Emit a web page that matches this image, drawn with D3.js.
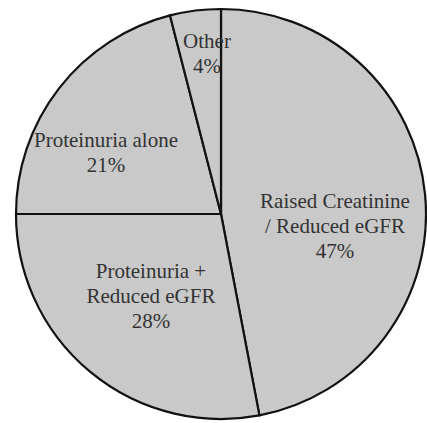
<!DOCTYPE html>
<style>
body { margin: 0; background: #fff; }
</style>
<svg width="427" height="423"></svg>
<script src="https://d3js.org/d3.v7.min.js"></script>
<script>

// data, clockwise from 12 o'clock
const categories = ['Raised Creatinine / Reduced eGFR', 'Proteinuria + Reduced eGFR', 'Proteinuria alone', 'Other'];
const values = [47, 28, 21, 4];
const labelLines = [
	['Raised Creatinine', '/ Reduced eGFR', '47%'],
	['Proteinuria +', 'Reduced eGFR', '28%'],
	['Proteinuria alone', '21%'],
	['Other', '4%']
];

// where each label block sits, relative to the centre (first baseline)
const labelPos = [[114, -6], [-70, 64], [-115, -67], [-14, -166]];

const svg = d3.select('svg'),
	cx = 221,
	cy = 214,
	radius = 205;

const pie = d3.pie().sort(null).value((d) => d);
const arc = d3.arc().innerRadius(0).outerRadius(radius);

const g = svg.append('g').attr('transform', `translate(${cx},${cy})`);

g.selectAll('path')
	.data(pie(values))
	.enter().append('path')
	.attr('d', arc)
	.attr('fill', '#c9c9c9')
	.attr('stroke', '#111')
	.attr('stroke-width', 2.2)
	.attr('stroke-linejoin', 'round');

const labels = g.selectAll('text')
	.data(labelLines)
	.enter().append('text')
	.attr('font-family', 'Liberation Serif')
	.attr('font-size', 21)
	.attr('text-anchor', 'middle')
	.attr('fill', '#333')
	.attr('transform', (d, i) => `translate(${labelPos[i][0]},${labelPos[i][1]})`);

labels.selectAll('tspan')
	.data((d) => d)
	.enter().append('tspan')
	.attr('x', 0)
	.attr('y', (d, i) => i * 25)
	.text((d) => d);

</script>
